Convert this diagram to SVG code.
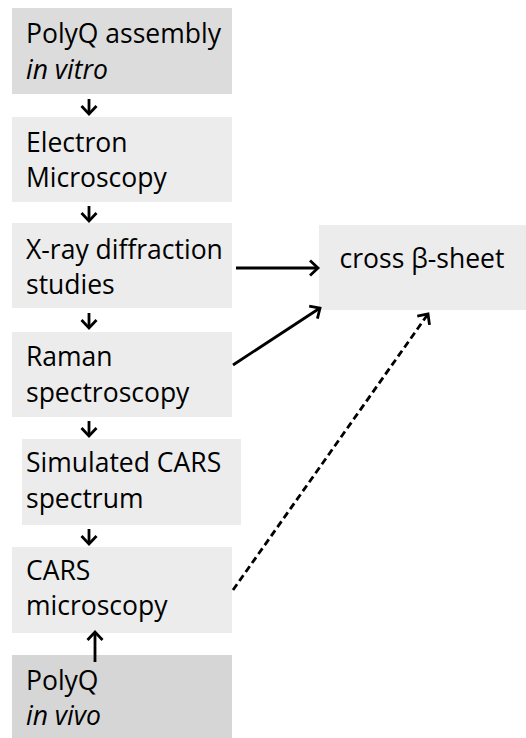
<svg xmlns="http://www.w3.org/2000/svg" width="526" height="738" viewBox="0 0 526 738">
<style>
.box{fill:#ececec}
.dark{fill:#dcdcdc}
.t{font-family:"Open Sans","Liberation Sans",sans-serif;font-size:26.5px;fill:#000}
.i{font-style:italic}
.c{stroke:#000;stroke-width:2.8;fill:none}
.d{stroke-dasharray:7,4}
</style>
<defs>
<marker id="ah" viewBox="0 0 20 20" refX="16" refY="10" markerWidth="20" markerHeight="20" markerUnits="userSpaceOnUse" orient="auto">
<path d="M8,2.5 L16,10 L8,17.5" fill="none" stroke="#000" stroke-width="2.8" stroke-linejoin="miter"/>
</marker>
</defs>
<rect width="526" height="738" fill="#fff"/>
<g id="n1"><rect class="dark" x="12" y="8" width="220" height="86"/><text class="t" x="26" y="43">PolyQ assembly</text><text class="t i" x="26" y="79">in vitro</text></g>
<g id="n2"><rect class="box" x="12" y="117" width="220" height="85"/><text class="t" x="26" y="152">Electron</text><text class="t" x="26" y="187">Microscopy</text></g>
<g id="n3"><rect class="box" x="12" y="223" width="220" height="85"/><text class="t" x="26" y="259">X-ray diffraction</text><text class="t" x="26" y="294">studies</text></g>
<g id="n4"><rect class="box" x="12" y="332" width="220" height="85"/><text class="t" x="26" y="366">Raman</text><text class="t" x="26" y="402">spectroscopy</text></g>
<g id="n5"><rect class="box" x="22" y="439" width="219" height="86"/><text class="t" x="26" y="472">Simulated CARS</text><text class="t" x="26" y="508">spectrum</text></g>
<g id="n6"><rect class="box" x="12" y="547" width="220" height="86"/><text class="t" x="26" y="580">CARS</text><text class="t" x="26" y="615">microscopy</text></g>
<g id="n7"><rect x="12" y="655" width="220" height="83" fill="#d6d6d6"/><text class="t" x="26" y="690">PolyQ</text><text class="t i" x="26" y="725">in vivo</text></g>
<g id="n8"><rect class="box" x="319" y="225" width="207" height="85"/><text class="t" x="422" y="268" text-anchor="middle">cross β-sheet</text></g>
<g id="connectors">
<line class="c" x1="89" y1="99" x2="89" y2="114" marker-end="url(#ah)"/>
<line class="c" x1="89" y1="206" x2="89" y2="221" marker-end="url(#ah)"/>
<line class="c" x1="89" y1="313" x2="89" y2="328" marker-end="url(#ah)"/>
<line class="c" x1="89" y1="421" x2="89" y2="436" marker-end="url(#ah)"/>
<line class="c" x1="89" y1="529" x2="89" y2="544" marker-end="url(#ah)"/>
<line class="c" x1="95" y1="662" x2="95" y2="632" marker-end="url(#ah)"/>
<line class="c" x1="236" y1="268" x2="318" y2="268" marker-end="url(#ah)"/>
<line class="c" x1="233" y1="365" x2="320" y2="308" marker-end="url(#ah)"/>
<line class="c d" x1="233" y1="590" x2="428" y2="314" marker-end="url(#ah)"/>
</g>
</svg>
